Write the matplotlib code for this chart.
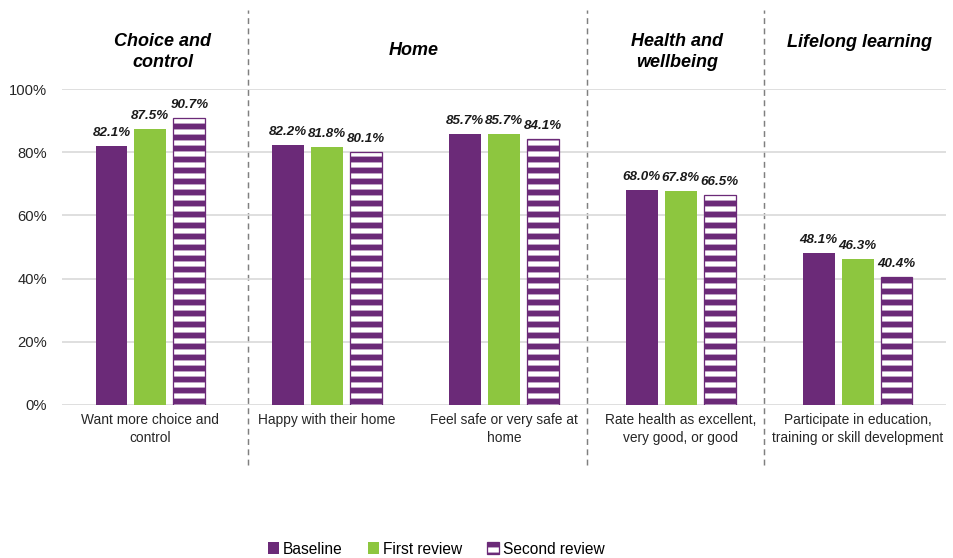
import numpy as np
import matplotlib.pyplot as plt
from matplotlib.transforms import blended_transform_factory

# Survey results by outcome area (percent of respondents)
categories = ["Want more choice and\ncontrol",
              "Happy with their home",
              "Feel safe or very safe at\nhome",
              "Rate health as excellent,\nvery good, or good",
              "Participate in education,\ntraining or skill development"]
baseline = [82.1, 82.2, 85.7, 68.0, 48.1]
first_review = [87.5, 81.8, 85.7, 67.8, 46.3]
second_review = [90.7, 80.1, 84.1, 66.5, 40.4]

groups = ["Choice and\ncontrol", "Home", "Health and\nwellbeing", "Lifelong learning"]
group_x = [0.07, 1.49, 2.98, 4.01]
group_y = [1.118, 1.123, 1.118, 1.146]
separators = [0.55, 2.47, 3.47]

purple = "#6B2A78"
green = "#8DC63F"

DPI = 132
k = 120 / DPI  # font scale

plt.rcParams["font.family"] = ["Liberation Sans", "DejaVu Sans"]
plt.rcParams["hatch.linewidth"] = 3.2

fig = plt.figure(figsize=(953 / DPI, 558 / DPI), dpi=DPI)
ax = fig.add_axes([0.065, 0.2742, 0.9277, 0.5663])

x = np.arange(len(categories))
w = 0.18
off = 0.22

b1 = ax.bar(x - off, np.array(baseline) / 100, w, color=purple, label="Baseline", zorder=3)
b2 = ax.bar(x, np.array(first_review) / 100, w, color=green, label="First review", zorder=3)
b3 = ax.bar(x + off, np.array(second_review) / 100, w, facecolor="white", edgecolor=purple,
            hatch="--", linewidth=0.7, label="Second review", zorder=3)

for bars, vals in [(b1, baseline), (b2, first_review), (b3, second_review)]:
    for rect, v in zip(bars, vals):
        ax.text(rect.get_x() + rect.get_width() / 2, v / 100 + 0.022, f"{v:.1f}%",
                ha="center", va="bottom", fontsize=8.0 * k, fontweight="bold",
                fontstyle="italic", color="#1a1a1a")

ax.set_xlim(-0.5, len(categories) - 0.5)
ax.set_ylim(0, 1)
ax.set_yticks(np.arange(0, 1.01, 0.2))
ax.set_yticklabels([f"{int(round(t * 100))}%" for t in np.arange(0, 1.01, 0.2)])
ax.set_xticks(x)
ax.set_xticklabels(categories, fontsize=8.3 * k, color="#262626", linespacing=1.3)
ax.tick_params(axis="y", length=0, pad=8, labelsize=8.9 * k, labelcolor="#262626")
ax.tick_params(axis="x", length=0, pad=4.5)
ax.yaxis.grid(True, color="#d9d9d9", linewidth=0.9, zorder=0)
for s in ax.spines.values():
    s.set_visible(False)

# dashed dividers between outcome areas
for sx in separators:
    ax.axvline(sx, ymin=-0.19, ymax=1.25, color="#7f7f7f", linestyle=(0, (4, 3)),
               linewidth=0.8, clip_on=False, zorder=1)

trans = blended_transform_factory(ax.transData, ax.transAxes)
for g, gx, gy in zip(groups, group_x, group_y):
    ax.text(gx, gy, g, transform=trans, ha="center", va="center", fontsize=10.8 * k,
            fontweight="bold", fontstyle="italic", color="black", linespacing=1.32)

fig.legend(handles=[b1, b2, b3], loc="center", bbox_to_anchor=(436 / 953, 1 - 549 / 558),
           ncol=3, frameon=False, fontsize=9.3 * k, handlelength=0.75, handleheight=0.75,
           handletextpad=0.25, columnspacing=1.6)

fig.savefig("out.png", dpi=DPI)
